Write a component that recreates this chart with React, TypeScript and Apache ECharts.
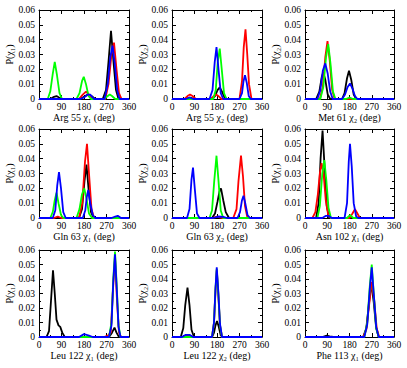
import React, { useEffect, useRef } from 'react';
import * as echarts from 'echarts';

type Pt = [number, number];

// Panel captions (residue and dihedral index), row by row
const RESIDUES = ['Arg 55', 'Arg 55', 'Met 61', 'Gln 63', 'Gln 63', 'Asn 102', 'Leu 122', 'Leu 122', 'Phe 113'];
const CHI_INDEX = [1, 2, 2, 1, 2, 1, 1, 2, 1];

// Axis ticks shared by every panel
const X_TICKS = [0, 90, 180, 270, 360];
const Y_TICKS = [0, 0.01, 0.02, 0.03, 0.04, 0.05, 0.06];

// Trajectory colours: black, red, green, blue
const RUN_COLORS = ['#000000', '#ff0000', '#00ff00', '#0000ff'];

// Dihedral distributions, [angle (deg), P]
const ARG55_CHI1_BLACK: Pt[] = [[0, 0], [45, 0], [60, 0.0015], [70, 0.002], [80, 0.001], [95, 0], [165, 0], [180, 0.0015], [195, 0.003], [210, 0.002], [225, 0], [255, 0], [268, 0.006], [278, 0.025], [288, 0.046], [298, 0.025], [308, 0.006], [318, 0], [360, 0]];
const ARG55_CHI1_RED: Pt[] = [[0, 0], [160, 0], [175, 0.003], [188, 0.005], [200, 0.003], [215, 0], [265, 0], [278, 0.01], [290, 0.03], [300, 0.038], [310, 0.02], [320, 0.004], [330, 0], [360, 0]];
const ARG55_CHI1_GREEN: Pt[] = [[0, 0], [35, 0], [45, 0.005], [55, 0.017], [63, 0.025], [72, 0.016], [82, 0.004], [92, 0], [150, 0], [162, 0.004], [172, 0.012], [179, 0.015], [188, 0.01], [198, 0.002], [208, 0], [260, 0], [275, 0.002], [283, 0.003], [292, 0.002], [305, 0], [360, 0]];
const ARG55_CHI1_BLUE: Pt[] = [[0, 0], [165, 0], [180, 0.001], [195, 0.003], [205, 0.003], [220, 0], [262, 0], [275, 0.01], [285, 0.028], [294, 0.036], [303, 0.024], [313, 0.006], [322, 0], [360, 0]];

const ARG55_CHI2_BLACK: Pt[] = [[0, 0], [55, 0], [72, 0.001], [90, 0], [160, 0], [172, 0.002], [182, 0.006], [191, 0.0078], [200, 0.005], [210, 0.001], [220, 0], [360, 0]];
const ARG55_CHI2_RED: Pt[] = [[0, 0], [50, 0], [62, 0.002], [72, 0.003], [82, 0.002], [95, 0], [155, 0], [168, 0.002], [176, 0.003], [186, 0.002], [198, 0], [270, 0], [280, 0.012], [287, 0.035], [294, 0.047], [301, 0.03], [308, 0.01], [318, 0], [360, 0]];
const ARG55_CHI2_GREEN: Pt[] = [[0, 0], [165, 0], [175, 0.006], [183, 0.025], [191, 0.034], [199, 0.02], [208, 0.004], [218, 0], [360, 0]];
const ARG55_CHI2_BLUE: Pt[] = [[0, 0], [55, 0], [70, 0.001], [85, 0], [150, 0], [162, 0.006], [171, 0.025], [178, 0.035], [186, 0.02], [195, 0.004], [205, 0], [270, 0], [280, 0.004], [286, 0.012], [292, 0.016], [299, 0.011], [307, 0.002], [315, 0], [360, 0]];

const MET61_CHI2_BLACK: Pt[] = [[0, 0], [45, 0], [58, 0.005], [68, 0.015], [74, 0.018], [82, 0.013], [92, 0.003], [102, 0], [150, 0], [160, 0.004], [170, 0.014], [178, 0.019], [187, 0.013], [197, 0.003], [207, 0], [360, 0]];
const MET61_CHI2_RED: Pt[] = [[0, 0], [60, 0], [72, 0.008], [82, 0.028], [91, 0.039], [100, 0.026], [110, 0.006], [120, 0], [360, 0]];
const MET61_CHI2_GREEN: Pt[] = [[0, 0], [62, 0], [74, 0.008], [85, 0.028], [94, 0.037], [103, 0.024], [113, 0.005], [123, 0], [165, 0], [180, 0.001], [195, 0], [360, 0]];
const MET61_CHI2_BLUE: Pt[] = [[0, 0], [50, 0], [62, 0.006], [72, 0.019], [82, 0.024], [92, 0.017], [102, 0.005], [112, 0], [150, 0], [162, 0.003], [172, 0.008], [182, 0.0105], [192, 0.007], [202, 0.002], [212, 0], [360, 0]];

const GLN63_CHI1_BLACK: Pt[] = [[0, 0], [160, 0], [172, 0.006], [182, 0.025], [190, 0.036], [198, 0.02], [208, 0.004], [218, 0], [360, 0]];
const GLN63_CHI1_RED: Pt[] = [[0, 0], [60, 0], [75, 0.001], [90, 0], [160, 0], [173, 0.01], [184, 0.038], [192, 0.05], [200, 0.03], [210, 0.006], [220, 0], [360, 0]];
const GLN63_CHI1_GREEN: Pt[] = [[0, 0], [45, 0], [55, 0.004], [63, 0.012], [70, 0.017], [78, 0.01], [88, 0.002], [98, 0], [150, 0], [162, 0.006], [172, 0.016], [181, 0.02], [190, 0.013], [200, 0.003], [212, 0], [360, 0]];
const GLN63_CHI1_BLUE: Pt[] = [[0, 0], [55, 0], [65, 0.005], [73, 0.022], [80, 0.031], [88, 0.02], [97, 0.004], [107, 0], [175, 0], [185, 0.005], [191, 0.014], [197, 0.019], [205, 0.01], [215, 0.002], [225, 0], [290, 0], [305, 0.001], [315, 0.0015], [328, 0], [360, 0]];

const GLN63_CHI2_BLACK: Pt[] = [[0, 0], [160, 0], [172, 0.003], [182, 0.011], [190, 0.018], [196, 0.02], [205, 0.012], [215, 0.004], [228, 0], [360, 0]];
const GLN63_CHI2_RED: Pt[] = [[0, 0], [160, 0], [180, 0.001], [200, 0], [245, 0], [258, 0.006], [266, 0.025], [276, 0.042], [284, 0.028], [292, 0.008], [302, 0], [360, 0]];
const GLN63_CHI2_GREEN: Pt[] = [[0, 0], [150, 0], [160, 0.005], [169, 0.025], [178, 0.042], [186, 0.025], [195, 0.005], [205, 0], [360, 0]];
const GLN63_CHI2_BLUE: Pt[] = [[0, 0], [60, 0], [70, 0.006], [78, 0.026], [84, 0.034], [91, 0.02], [100, 0.003], [110, 0], [165, 0], [185, 0.001], [205, 0.0008], [220, 0], [262, 0], [272, 0.004], [280, 0.012], [286, 0.015], [293, 0.01], [302, 0.002], [312, 0], [360, 0]];

const ASN102_CHI1_BLACK: Pt[] = [[0, 0], [45, 0], [55, 0.01], [63, 0.04], [71, 0.059], [79, 0.035], [88, 0.008], [98, 0], [360, 0]];
const ASN102_CHI1_RED: Pt[] = [[0, 0], [30, 0], [42, 0.004], [52, 0.016], [60, 0.03], [67, 0.037], [75, 0.03], [84, 0.012], [94, 0.002], [104, 0], [180, 0], [192, 0.003], [202, 0.006], [212, 0.003], [222, 0], [360, 0]];
const ASN102_CHI1_GREEN: Pt[] = [[0, 0], [50, 0], [60, 0.008], [70, 0.03], [78, 0.039], [86, 0.026], [95, 0.007], [105, 0], [170, 0], [182, 0.002], [195, 0], [360, 0]];
const ASN102_CHI1_BLUE: Pt[] = [[0, 0], [70, 0], [85, 0.0015], [95, 0.0015], [108, 0], [160, 0], [170, 0.01], [177, 0.038], [182, 0.05], [189, 0.035], [197, 0.01], [207, 0.001], [215, 0], [360, 0]];

const LEU122_CHI1_BLACK: Pt[] = [[0, 0], [30, 0], [40, 0.004], [48, 0.025], [56, 0.046], [63, 0.03], [70, 0.012], [78, 0.008], [85, 0.007], [93, 0.003], [103, 0], [280, 0], [292, 0.003], [302, 0.0065], [310, 0.003], [320, 0], [360, 0]];
const LEU122_CHI1_RED: Pt[] = [[0, 0], [260, 0], [275, 0.001], [287, 0.003], [295, 0.03], [304, 0.055], [312, 0.025], [320, 0.003], [328, 0], [360, 0]];
const LEU122_CHI1_GREEN: Pt[] = [[0, 0], [280, 0], [290, 0.01], [297, 0.04], [304, 0.059], [311, 0.035], [318, 0.008], [326, 0], [360, 0]];
const LEU122_CHI1_BLUE: Pt[] = [[0, 0], [160, 0], [180, 0.002], [200, 0.001], [215, 0], [280, 0], [290, 0.008], [297, 0.038], [304, 0.057], [311, 0.033], [318, 0.007], [326, 0], [360, 0]];

const LEU122_CHI2_BLACK: Pt[] = [[0, 0], [35, 0], [45, 0.006], [53, 0.022], [62, 0.034], [70, 0.022], [78, 0.005], [88, 0], [160, 0], [168, 0.003], [174, 0.008], [180, 0.011], [187, 0.007], [195, 0.001], [205, 0], [360, 0]];
const LEU122_CHI2_RED: Pt[] = [[0, 0], [40, 0], [55, 0.001], [70, 0.001], [85, 0], [160, 0], [168, 0.01], [174, 0.032], [179, 0.046], [185, 0.03], [192, 0.008], [200, 0], [360, 0]];
const LEU122_CHI2_GREEN: Pt[] = [[0, 0], [160, 0], [168, 0.01], [174, 0.033], [179, 0.047], [185, 0.031], [192, 0.008], [200, 0], [360, 0]];
const LEU122_CHI2_BLUE: Pt[] = [[0, 0], [40, 0], [55, 0.0015], [70, 0.0015], [85, 0], [160, 0], [168, 0.01], [174, 0.034], [179, 0.048], [185, 0.032], [192, 0.009], [200, 0], [360, 0]];

const PHE113_CHI1_BLACK: Pt[] = [[0, 0], [70, 0], [88, 0.001], [100, 0.0005], [115, 0], [235, 0], [248, 0.006], [258, 0.022], [268, 0.037], [278, 0.024], [288, 0.006], [298, 0], [360, 0]];
const PHE113_CHI1_RED: Pt[] = [[0, 0], [235, 0], [248, 0.005], [258, 0.02], [270, 0.038], [280, 0.025], [290, 0.006], [300, 0], [360, 0]];
const PHE113_CHI1_GREEN: Pt[] = [[0, 0], [240, 0], [252, 0.01], [262, 0.035], [270, 0.05], [278, 0.03], [288, 0.006], [298, 0], [360, 0]];
const PHE113_CHI1_BLUE: Pt[] = [[0, 0], [240, 0], [252, 0.009], [262, 0.033], [270, 0.048], [278, 0.03], [288, 0.007], [298, 0], [360, 0]];

const PANEL_SERIES: Pt[][][] = [
  [ARG55_CHI1_BLACK, ARG55_CHI1_RED, ARG55_CHI1_GREEN, ARG55_CHI1_BLUE],
  [ARG55_CHI2_BLACK, ARG55_CHI2_RED, ARG55_CHI2_GREEN, ARG55_CHI2_BLUE],
  [MET61_CHI2_BLACK, MET61_CHI2_RED, MET61_CHI2_GREEN, MET61_CHI2_BLUE],
  [GLN63_CHI1_BLACK, GLN63_CHI1_RED, GLN63_CHI1_GREEN, GLN63_CHI1_BLUE],
  [GLN63_CHI2_BLACK, GLN63_CHI2_RED, GLN63_CHI2_GREEN, GLN63_CHI2_BLUE],
  [ASN102_CHI1_BLACK, ASN102_CHI1_RED, ASN102_CHI1_GREEN, ASN102_CHI1_BLUE],
  [LEU122_CHI1_BLACK, LEU122_CHI1_RED, LEU122_CHI1_GREEN, LEU122_CHI1_BLUE],
  [LEU122_CHI2_BLACK, LEU122_CHI2_RED, LEU122_CHI2_GREEN, LEU122_CHI2_BLUE],
  [PHE113_CHI1_BLACK, PHE113_CHI1_RED, PHE113_CHI1_GREEN, PHE113_CHI1_BLUE],
];

const SUB = ['', '\u2081', '\u2082'];
const FONT = "'Liberation Serif', 'Times New Roman', serif";

const COL_LEFT = [39, 172, 305];
const ROW_TOP = [10, 129, 250];
const COL_WIDTH = [90, 90, 89];
const ROW_HEIGHT = [89, 89, 87];

const black = '#000000';

function buildOption(): echarts.EChartsOption {
  const grid: any[] = [];
  const xAxis: any[] = [];
  const yAxis: any[] = [];
  const series: any[] = [];
  const n = PANEL_SERIES.length;

  const tickStyle = { color: black, width: 1 };
  const xCommon = {
    type: 'value',
    min: X_TICKS[0],
    max: X_TICKS[X_TICKS.length - 1],
    interval: X_TICKS[1] - X_TICKS[0],
    axisLine: { show: true, onZero: false, lineStyle: tickStyle },
    axisTick: { show: true, inside: true, length: 4, lineStyle: tickStyle },
    minorTick: { show: true, splitNumber: 2, length: 2, lineStyle: tickStyle },
    splitLine: { show: false },
    minorSplitLine: { show: false },
  };
  const yCommon = {
    type: 'value',
    min: Y_TICKS[0],
    max: Y_TICKS[Y_TICKS.length - 1],
    interval: Y_TICKS[1] - Y_TICKS[0],
    axisLine: { show: true, onZero: false, lineStyle: tickStyle },
    axisTick: { show: true, inside: true, length: 4, lineStyle: tickStyle },
    minorTick: { show: true, splitNumber: 2, length: 2, lineStyle: tickStyle },
    splitLine: { show: false },
    minorSplitLine: { show: false },
  };

  for (let i = 0; i < n; i++) {
    const col = i % 3;
    const row = Math.floor(i / 3);
    grid.push({
      left: COL_LEFT[col],
      top: ROW_TOP[row],
      width: COL_WIDTH[col],
      height: ROW_HEIGHT[row],
      containLabel: false,
    });
    const chi = `\u03c7${SUB[CHI_INDEX[i]]}`;
    xAxis.push({
      ...xCommon,
      gridIndex: i,
      position: 'bottom',
      axisLabel: { show: true, fontSize: 9.5, color: black, fontFamily: FONT, margin: 3 },
      name: `${RESIDUES[i]} ${chi} (deg)`,
      nameLocation: 'middle',
      nameGap: 13,
      nameTextStyle: { fontSize: 10, color: black, fontFamily: FONT },
    });
    yAxis.push({
      ...yCommon,
      gridIndex: i,
      position: 'left',
      axisLabel: {
        show: true,
        fontSize: 9.5,
        color: black,
        fontFamily: FONT,
        margin: 4,
        formatter: (v: number) => (v === 0 ? '0' : v.toFixed(2)),
      },
      name: `P(${chi})`,
      nameLocation: 'middle',
      nameGap: 24,
      nameTextStyle: { fontSize: 10, color: black, fontFamily: FONT },
    });
  }
  // mirrored frame on the top and right edges
  for (let i = 0; i < n; i++) {
    xAxis.push({ ...xCommon, gridIndex: i, position: 'top', axisLabel: { show: false } });
    yAxis.push({ ...yCommon, gridIndex: i, position: 'right', axisLabel: { show: false } });
  }

  PANEL_SERIES.forEach((runs, i) => {
    runs.forEach((data, k) => {
      series.push({
        type: 'line',
        xAxisIndex: i,
        yAxisIndex: i,
        data,
        showSymbol: false,
        symbol: 'none',
        silent: true,
        lineStyle: { color: RUN_COLORS[k], width: 1.8 },
        itemStyle: { color: RUN_COLORS[k] },
        z: 2 + k,
      });
    });
  });

  return {
    animation: false,
    backgroundColor: '#ffffff',
    textStyle: { fontFamily: FONT },
    grid,
    xAxis,
    yAxis,
    series,
  } as echarts.EChartsOption;
}

export default function App() {
  const ref = useRef<HTMLDivElement>(null);
  useEffect(() => {
    if (!ref.current) return;
    const chart = echarts.init(ref.current, undefined, { renderer: 'svg' });
    chart.setOption(buildOption());
    return () => chart.dispose();
  }, []);
  return (
    <div
      ref={ref}
      style={{ position: 'fixed', left: 0, top: 0, width: 407, height: 368, background: '#ffffff' }}
    />
  );
}
